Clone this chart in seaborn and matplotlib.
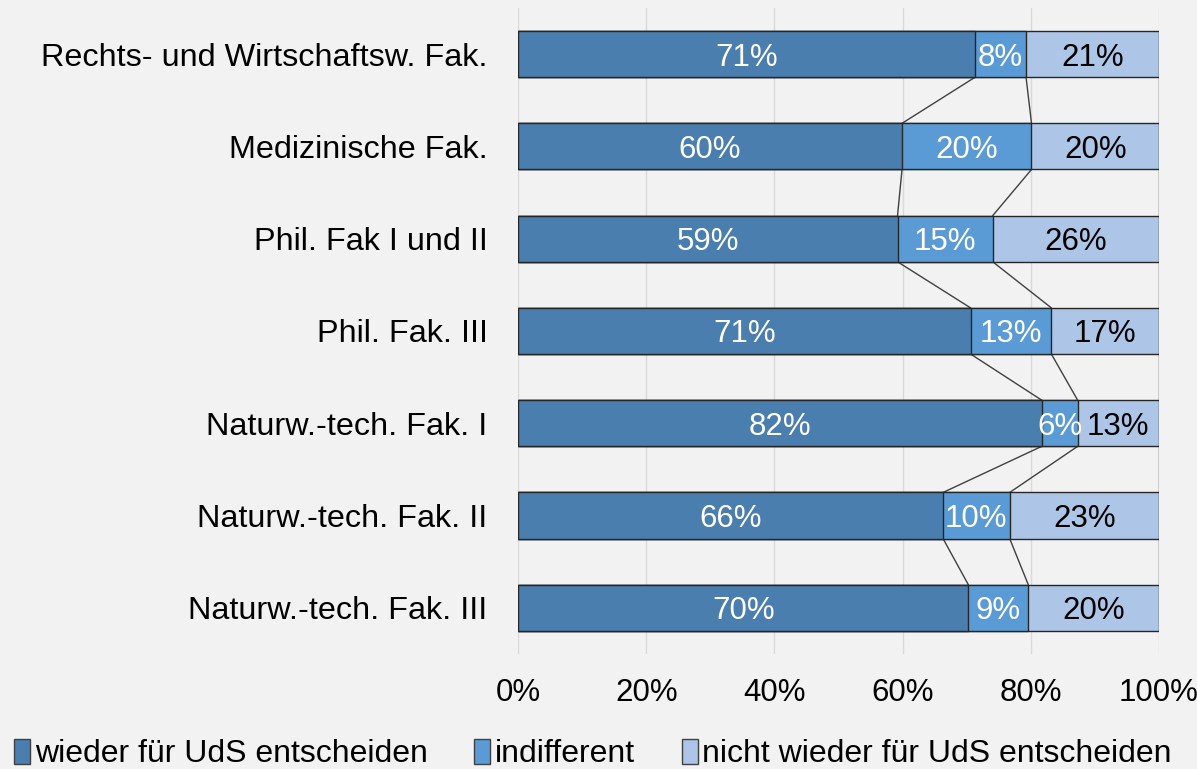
import numpy as np
import pandas as pd
import seaborn as sns
import matplotlib.pyplot as plt
from matplotlib.patches import Patch

faculties = ['Rechts- und Wirtschaftsw. Fak.', 'Medizinische Fak.', 'Phil. Fak I und II',
             'Phil. Fak. III', 'Naturw.-tech. Fak. I', 'Naturw.-tech. Fak. II',
             'Naturw.-tech. Fak. III']
wieder = [71.3, 59.9, 59.2, 70.6, 81.7, 66.3, 70.25]
indifferent = [7.95, 20.2, 14.85, 12.6, 5.6, 10.4, 9.35]
nicht = [20.75, 19.9, 25.95, 16.8, 12.7, 23.3, 20.4]
series_names = ['wieder für UdS entscheiden', 'indifferent', 'nicht wieder für UdS entscheiden']
colors = ['#4a7eae', '#5b9bd5', '#adc5e7']
text_colors = ['white', 'white', 'black']

sns.set_style('white')
plt.rcParams['font.family'] = ['Liberation Sans', 'DejaVu Sans']
plt.rcParams['text.color'] = 'black'
plt.rcParams['xtick.color'] = 'black'
plt.rcParams['ytick.color'] = 'black'
fs = 22.5

df = pd.DataFrame({'fak': faculties, 's1': wieder, 's2': indifferent, 's3': nicht})
df['c1'] = df['s1']
df['c2'] = df['s1'] + df['s2']
df['c3'] = df['c2'] + df['s3']

fig = plt.figure(figsize=(11.97, 7.69), dpi=100, facecolor='#f2f2f2')
ax = fig.add_axes([0.4328, 0.1496, 0.5355, 0.84])
ax.set_facecolor('#f2f2f2')

# stacked bars: draw cumulative totals from largest to smallest
for col, c in zip(['c3', 'c2', 'c1'], colors[::-1]):
    sns.barplot(data=df, x=col, y='fak', color=c, width=0.5, edgecolor='#262626',
                linewidth=1.0, saturation=1, ax=ax, zorder=3)

# series lines between neighbouring bars
ypos = np.arange(len(faculties))
for col in ['c1', 'c2', 'c3']:
    vals = df[col].values
    for i in range(len(vals) - 1):
        ax.plot([vals[i], vals[i + 1]], [ypos[i] + 0.25, ypos[i + 1] - 0.25],
                color='#404040', lw=1.0, zorder=2)

# value labels
for i in range(len(df)):
    left = 0
    for k, s in enumerate(['s1', 's2', 's3']):
        v = df[s].iloc[i]
        ax.text(left + v / 2, ypos[i], f'{v:.0f}%', ha='center', va='center_baseline',
                color=text_colors[k], fontsize=fs, zorder=4)
        left += v

ax.set_xlim(0, 100)
ax.set_ylim(len(faculties) - 0.5, -0.5)
ax.set_xticks(range(0, 101, 20))
ax.set_xticklabels([f'{t}%' for t in range(0, 101, 20)], fontsize=fs)
ax.tick_params(axis='x', length=0, pad=17)
ax.tick_params(axis='y', length=0, pad=22, labelsize=23.3)
ax.set_xlabel('')
ax.set_ylabel('')
ax.grid(axis='x', color='#d9d9d9', lw=1.0, zorder=0)
ax.set_axisbelow(True)
for sp in ax.spines.values():
    sp.set_visible(False)

handles = [Patch(facecolor=c, edgecolor='#404040', lw=1.0) for c in colors]
fig.legend(handles, series_names, loc='lower left', bbox_to_anchor=(-0.012, -0.038), ncol=3,
           frameon=False, fontsize=23, handlelength=0.5, handleheight=0.8,
           handletextpad=0.15, columnspacing=1.45)

fig.savefig('out.png', dpi=100, facecolor=fig.get_facecolor())
